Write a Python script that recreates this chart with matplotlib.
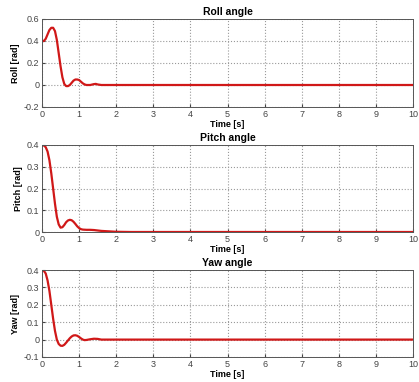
import matplotlib
matplotlib.use('Agg')
import matplotlib.pyplot as plt

plt.rcParams['font.family'] = ['Liberation Sans', 'DejaVu Sans']

# roll angle samples
t_roll = [0, 0.05, 0.1, 0.15, 0.2, 0.25, 0.3, 0.35, 0.4, 0.45, 0.5, 0.55, 0.6, 0.65, 0.7,
          0.75, 0.8, 0.85, 0.9, 0.95, 1.0, 1.05, 1.1, 1.15, 1.2, 1.3, 1.4, 1.45, 1.5, 1.6, 1.8, 2.4, 10]
roll = [0.40, 0.40, 0.42, 0.46, 0.50, 0.52, 0.52, 0.49, 0.41, 0.29, 0.17, 0.07, 0.01, -0.01, -0.01,
        0.0, 0.02, 0.04, 0.05, 0.05, 0.045, 0.03, 0.015, 0.005, 0.0, 0.0, 0.008, 0.01, 0.005, 0.0, 0.0, 0.0, 0.0]

# pitch angle samples
t_pitch = [0, 0.05, 0.1, 0.15, 0.2, 0.25, 0.3, 0.35, 0.4, 0.45, 0.5, 0.55, 0.6, 0.65, 0.7,
           0.75, 0.8, 0.85, 0.9, 0.95, 1.0, 1.05, 1.1, 1.2, 1.3, 1.4, 1.5, 1.6, 1.8, 2.0, 2.4, 10]
pitch = [0.40, 0.398, 0.39, 0.37, 0.33, 0.27, 0.20, 0.13, 0.07, 0.035, 0.02, 0.022, 0.032, 0.045, 0.053,
         0.056, 0.054, 0.047, 0.037, 0.026, 0.018, 0.013, 0.011, 0.01, 0.01, 0.009, 0.007, 0.005, 0.003, 0.001, 0.0, 0.0]

# yaw angle samples
t_yaw = [0, 0.05, 0.1, 0.15, 0.2, 0.25, 0.3, 0.35, 0.4, 0.45, 0.5, 0.55, 0.6, 0.65, 0.7,
         0.75, 0.8, 0.85, 0.9, 0.95, 1.0, 1.05, 1.1, 1.15, 1.2, 1.3, 1.4, 1.5, 1.6, 10]
yaw = [0.40, 0.395, 0.38, 0.34, 0.28, 0.20, 0.12, 0.05, 0.0, -0.025, -0.035, -0.036, -0.03, -0.018, -0.005,
       0.008, 0.018, 0.024, 0.025, 0.022, 0.015, 0.007, 0.0, -0.003, -0.002, 0.002, 0.005, 0.004, 0.0, 0.0]

panels = [
    ('Roll angle', 'Roll [rad]', t_roll, roll, (-0.2, 0.6), [-0.2, 0, 0.2, 0.4, 0.6], ['-0.2', '0', '0.2', '0.4', '0.6']),
    ('Pitch angle', 'Pitch [rad]', t_pitch, pitch, (0, 0.4), [0, 0.1, 0.2, 0.3, 0.4], ['0', '0.1', '0.2', '0.3', '0.4']),
    ('Yaw angle', 'Yaw [rad]', t_yaw, yaw, (-0.1, 0.4), [-0.1, 0, 0.1, 0.2, 0.3, 0.4], ['-0.1', '0', '0.1', '0.2', '0.3', '0.4']),
]

fig = plt.figure(figsize=(4.19, 3.82), dpi=100)
W, H = 419.0, 382.0
boxes = [(19, 107), (145, 232), (270, 357)]

for (title, ylab, t, y, ylim, yt, ytl), (top, bot) in zip(panels, boxes):
    ax = fig.add_axes([42 / W, 1 - bot / H, (413 - 42) / W, (bot - top) / H])
    ax.plot(t, y, color='#d01818', lw=1.6)
    ax.set_xlim(0, 10)
    ax.set_ylim(*ylim)
    ax.set_xticks(range(11))
    ax.set_yticks(yt)
    ax.set_yticklabels(ytl)
    ax.grid(True, linestyle=':', color='#999999', lw=0.8)
    ax.tick_params(labelsize=6.5, colors='#444444', length=2, direction='in', pad=2)
    for s in ax.spines.values():
        s.set_color('#555555')
        s.set_linewidth(0.7)
    ax.set_title(title, fontsize=7.5, fontweight='bold', pad=3)
    ax.set_ylabel(ylab, fontsize=6.5, fontweight='bold', labelpad=3)
    ax.set_xlabel('Time [s]', fontsize=6.5, fontweight='bold', labelpad=1)

fig.savefig('out.png', dpi=100)
